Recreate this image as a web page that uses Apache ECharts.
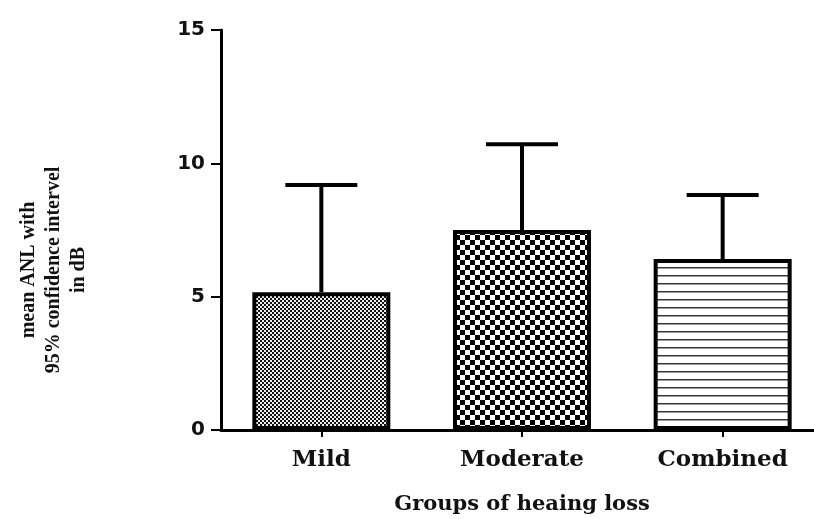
<!DOCTYPE html>
<html><head><meta charset="utf-8">
<script src="https://cdn.jsdelivr.net/npm/echarts@6/dist/echarts.min.js"></script>
<style>html,body{margin:0;padding:0;background:#fff}#c{width:814px;height:519px}</style>
</head><body><div id="c"></div>
<script>
const categories = ['Mild', 'Moderate', 'Combined'];
const means = [5.17, 7.5, 6.41];
const upperCI = [9.19, 10.72, 8.81];
const yTicks = [0, 5, 10, 15];
const yTitle = ['mean ANL with', '95% confidence intervel', 'in dB'];
const xTitle = 'Groups of heaing loss';

function makePattern(kind) {
  const c = document.createElement('canvas');
  const ctx = c.getContext('2d');
  if (kind === 0) {
    c.width = 4; c.height = 4;
    ctx.fillStyle = '#eee'; ctx.fillRect(0, 0, 4, 4);
    ctx.fillStyle = '#111';
    ctx.fillRect(0, 0, 2, 2); ctx.fillRect(2, 2, 2, 2);
  } else if (kind === 1) {
    c.width = 10; c.height = 10;
    ctx.fillStyle = '#fff'; ctx.fillRect(0, 0, 10, 10);
    ctx.fillStyle = '#000';
    ctx.fillRect(0, 0, 5, 5); ctx.fillRect(5, 5, 5, 5);
  } else {
    c.width = 8; c.height = 8;
    ctx.fillStyle = '#fff'; ctx.fillRect(0, 0, 8, 8);
    ctx.fillStyle = '#333';
    ctx.fillRect(0, 3, 8, 1.5);
  }
  return c;
}

const chart = echarts.init(document.getElementById('c'));
chart.setOption({
  animation: false,
  backgroundColor: '#fff',
  grid: { left: 221, top: 30, width: 602, height: 400, containLabel: false, outerBoundsMode: 'none' },
  graphic: [
    {
      type: 'text',
      x: 54, y: 270,
      rotation: Math.PI / 2,
      style: {
        text: yTitle.join('\n'),
        fontFamily: 'Liberation Serif', fontWeight: 'bold', fontSize: 20, lineHeight: 25,
        fill: '#111', align: 'center', verticalAlign: 'middle'
      }
    }
  ],
  xAxis: {
    type: 'category',
    data: categories,
    name: xTitle,
    nameLocation: 'middle',
    nameGap: 64,
    nameTextStyle: { fontFamily: 'DejaVu Serif', fontWeight: 'bold', fontSize: 21, color: '#111' },
    axisLine: { lineStyle: { color: '#000', width: 3 } },
    axisTick: { show: true, alignWithLabel: true, length: 7, lineStyle: { color: '#000', width: 2 } },
    axisLabel: { fontFamily: 'DejaVu Serif', fontWeight: 'bold', fontSize: 23, color: '#111', margin: 19 }
  },
  yAxis: {
    type: 'value',
    min: yTicks[0], max: yTicks[yTicks.length - 1], interval: 5,
    splitLine: { show: false },
    axisLine: { show: true, lineStyle: { color: '#000', width: 3 } },
    axisTick: { show: true, length: 10, lineStyle: { color: '#000', width: 2 } },
    axisLabel: { fontFamily: 'DejaVu Sans', fontWeight: 'bold', fontSize: 20, color: '#111', margin: 16 }
  },
  series: [
    {
      type: 'bar',
      barWidth: 138,
      data: means.map((v, i) => ({
        value: v,
        itemStyle: { color: { image: makePattern(i), repeat: 'repeat' }, borderColor: '#000', borderWidth: 4 }
      })),
      z: 2
    },
    {
      type: 'custom',
      z: 1,
      data: means.map((m, i) => [i, m, upperCI[i]]),
      renderItem: function (params, api) {
        const low = api.coord([api.value(0), api.value(1)]);
        const high = api.coord([api.value(0), api.value(2)]);
        const half = 36;
        const style = { stroke: '#000', lineWidth: 4 };
        return {
          type: 'group',
          children: [
            { type: 'line', shape: { x1: high[0], y1: high[1], x2: low[0], y2: low[1] }, style: style },
            { type: 'line', shape: { x1: high[0] - half, y1: high[1], x2: high[0] + half, y2: high[1] }, style: style }
          ]
        };
      }
    }
  ]
});
</script></body></html>
